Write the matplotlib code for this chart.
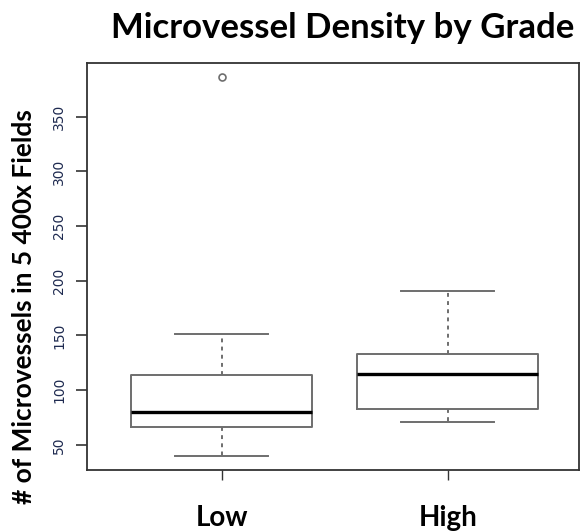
import matplotlib
matplotlib.use("Agg")
import matplotlib.pyplot as plt

# five-number summaries per grade, plus outliers
grades = ["Low", "High"]
whislo = [40, 71]
q1 = [66, 83]
med = [80, 115]
q3 = [114, 133]
whishi = [151, 191]
fliers = [[386], []]

stats = []
for i, g in enumerate(grades):
    stats.append(dict(label=g, whislo=whislo[i], q1=q1[i], med=med[i],
                      q3=q3[i], whishi=whishi[i], fliers=fliers[i]))

fig = plt.figure(figsize=(5.8, 5.31), dpi=100)
ax = fig.add_axes([0.15, 0.115, 0.848, 0.766])

box_col = "#6e6e6e"
ax.bxp(stats, positions=[1, 2], widths=0.8, patch_artist=False,
       boxprops=dict(color=box_col, linewidth=1.4),
       whiskerprops=dict(color=box_col, linewidth=1.4, linestyle=(0, (2, 2.2))),
       capprops=dict(color=box_col, linewidth=1.4),
       capwidths=0.41,
       medianprops=dict(color="black", linewidth=2.4),
       flierprops=dict(marker="o", markersize=5, markerfacecolor="none",
                       markeredgecolor=box_col, markeredgewidth=1.2))

ax.set_xlim(0.405, 2.58)
ax.set_ylim(27, 399)
ax.set_yticks([50, 100, 150, 200, 250, 300, 350])
ax.set_xticks([1, 2])
ax.set_xticklabels(grades, fontsize=20, fontweight="bold", family=["Lato", "DejaVu Sans"])
ax.tick_params(axis="x", length=7, width=1, pad=18, color="#333333")
ax.tick_params(axis="y", length=8, width=1.2, pad=7, color="#333333",
               labelsize=10, labelcolor="#1e2a50")
for lab in ax.get_yticklabels():
    lab.set_rotation(90)
    lab.set_va("center")
    lab.set_family(["Liberation Sans Narrow", "DejaVu Sans"])

for s in ax.spines.values():
    s.set_color("#333333")
    s.set_linewidth(1.3)

fig.text(0.59, 0.947, "Microvessel Density by Grade", ha="center", va="center",
         fontsize=25, fontweight="bold", family=["Lato", "DejaVu Sans"])
fig.text(0.041, 0.422, "# of Microvessels in 5 400x Fields", ha="center", va="center",
         rotation=90, fontsize=19, fontweight="bold", family=["Lato", "DejaVu Sans"])

fig.savefig("out.png", dpi=100, facecolor="white")
